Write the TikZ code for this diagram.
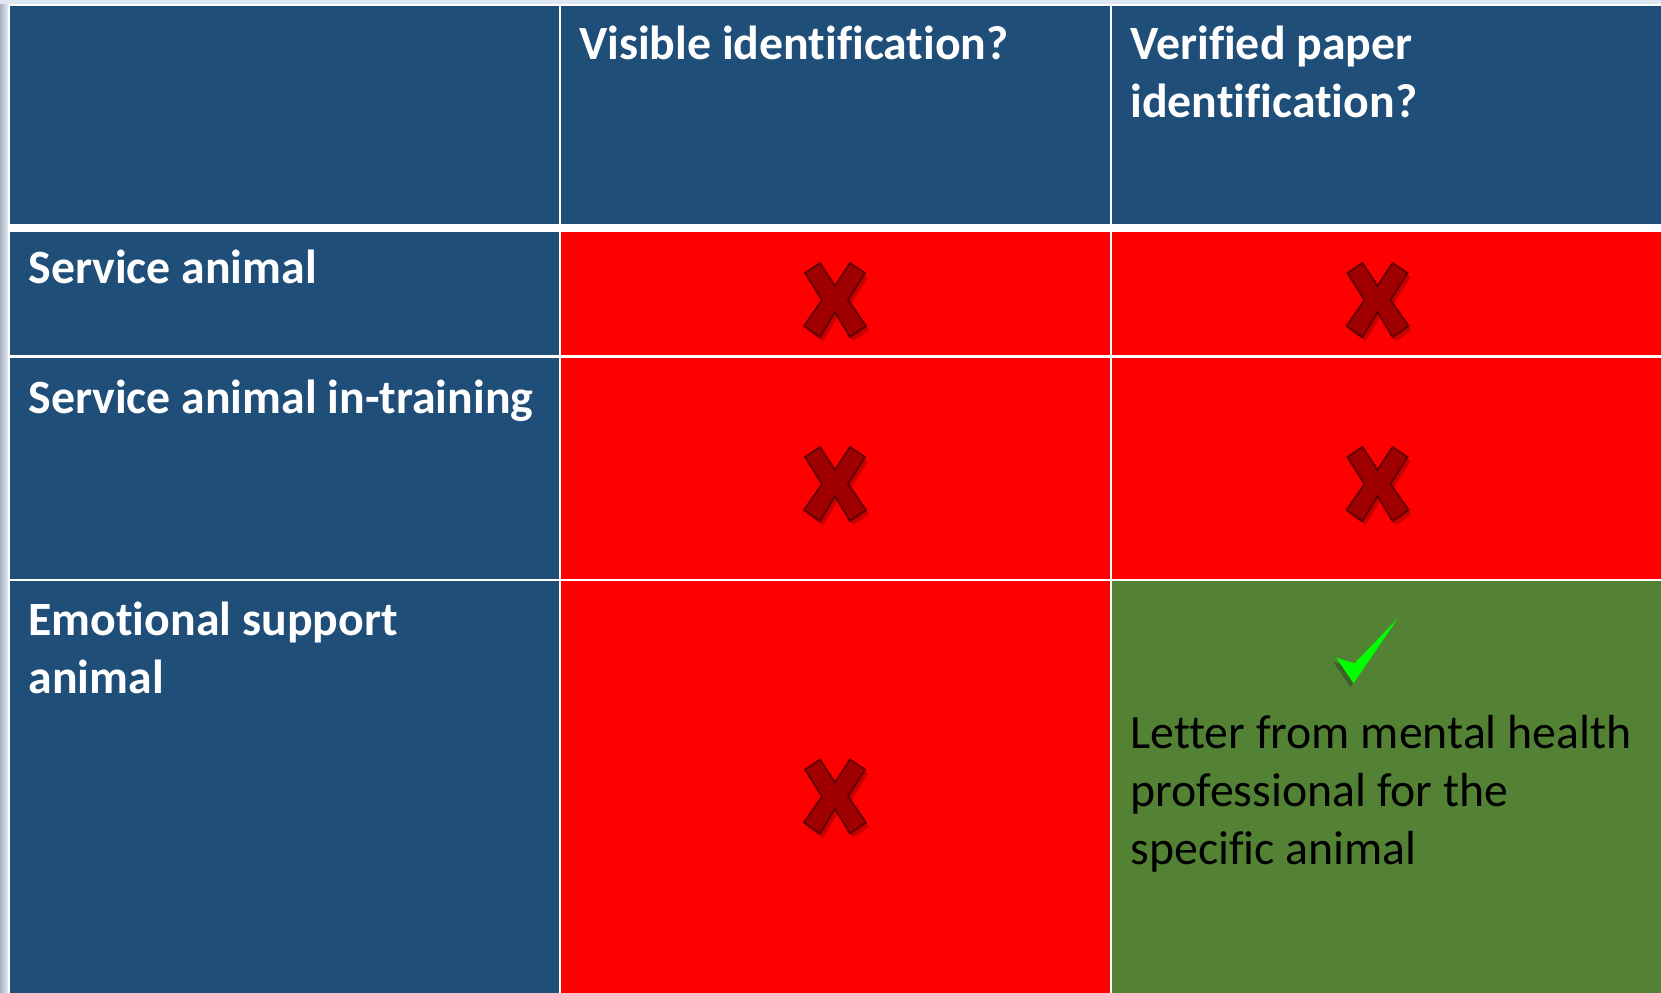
\documentclass[tikz,border=0pt]{standalone}
\usepackage{fontspec}
\setmainfont{Carlito}[Ligatures=NoCommon]
\usepackage{tikz}
\usetikzlibrary{positioning,shadows}
\definecolor{hdblue}{RGB}{31,78,121}
\definecolor{nored}{RGB}{255,0,0}
\definecolor{okgreen}{RGB}{84,130,53}
\definecolor{xfill}{RGB}{160,0,0}
\definecolor{xline}{RGB}{96,0,0}
\definecolor{tick}{RGB}{0,255,0}
\definecolor{rim}{RGB}{168,178,192}
\definecolor{rimlight}{RGB}{222,230,240}

\begin{document}
\begin{tikzpicture}[node distance=0cm,outer sep=0pt,inner sep=0pt]
        \tikzset{field/.style={shape=rectangle,minimum width=5.49cm,anchor=north west}}
        \tikzset{headfield/.style={field,fill=hdblue,minimum height=2.185cm}}
        \tikzset{rowfield/.style={field,fill=hdblue}}
        \tikzset{nofield/.style={field,fill=nored}}
        \tikzset{okfield/.style={field,fill=okgreen}}
        % base west = baseline of the last line
        \tikzset{headtext/.style={text=white,font=\bfseries\fontsize{13.6}{16.5}\selectfont,align=left,anchor=base west}}
        \tikzset{bodytext/.style={text=black,font=\fontsize{13.6}{16.5}\selectfont,align=left,anchor=base west}}
        \tikzset{nomark/.pic={
            \fill[xfill,draw=xline,line width=0.5pt,drop shadow={shadow xshift=0.03cm,shadow yshift=-0.045cm,opacity=0.22,fill=black}]
                (-0.30,0.27) -- (-0.15,0.37) -- (0,0.14) -- (0.15,0.37) -- (0.30,0.27) -- (0.13,0)
                -- (0.31,-0.26) -- (0.15,-0.37) -- (0,-0.12) -- (-0.15,-0.37) -- (-0.31,-0.26) -- (-0.13,0) -- cycle;}}
        \tikzset{yesmark/.pic={
            \fill[tick,drop shadow={shadow xshift=-0.03cm,shadow yshift=-0.04cm,opacity=0.25,fill=black}]
                (-0.173,0.256) -- (0.01,0.2) -- (0.443,0.65) -- (0,0) -- cycle;}}

        \useasboundingbox (0,0) rectangle (16.61,-9.92);
        \shade[left color=rim,right color=rimlight] (0,0) rectangle (0.075,-9.92);
        \fill[rimlight] (0,0) rectangle (16.61,-0.035);

        % header row
        \node [headfield] (corner) at (0.095,-0.055) {};
        \node [headfield,right=0.02cm of corner] (visible) {};
        \node [headfield,right=0.02cm of visible] (paper) {};
        \node [headtext] (visible-txt) at ([shift={(0.185,-0.535)}]visible.north west) {Visible identification?};
        \node [headtext] (paper-txt) at ([shift={(0.19,-1.117)}]paper.north west) {Verified paper\\identification?};

        % service animal
        \node [rowfield,minimum height=1.23cm,below=0.075cm of corner] (service) {};
        \node [nofield,minimum height=1.23cm,right=0.02cm of service] (service-vis) {};
        \node [nofield,minimum height=1.23cm,right=0.02cm of service-vis] (service-pap) {};
        \node [headtext] (service-txt) at ([shift={(0.19,-0.52)}]service.north west) {Service animal};

        % in training
        \node [rowfield,minimum height=2.21cm,below=0.03cm of service] (training) {};
        \node [nofield,minimum height=2.21cm,right=0.02cm of training] (training-vis) {};
        \node [nofield,minimum height=2.21cm,right=0.02cm of training-vis] (training-pap) {};
        \node [headtext] (training-txt) at ([shift={(0.19,-0.555)}]training.north west) {Service animal in-training};

        % emotional support
        \node [rowfield,minimum height=4.2cm,below=0.025cm of training] (esa) {};
        \node [nofield,minimum height=4.2cm,right=0.02cm of esa] (esa-vis) {};
        \node [okfield,minimum height=4.2cm,right=0.02cm of esa-vis] (esa-pap) {};
        \node [headtext] (esa-txt) at ([shift={(0.19,-1.127)}]esa.north west) {Emotional support\\animal};
        \node [bodytext] (letter) at ([shift={(0.19,-2.834)}]esa-pap.north west) {Letter from mental health\\professional for the\\specific animal};

        \pic at ([yshift=-0.07cm]service-vis.center) {nomark};
        \pic at ([shift={(-0.085,-0.07)}]service-pap.center) {nomark};
        \pic at ([yshift=-0.16cm]training-vis.center) {nomark};
        \pic at ([shift={(-0.085,-0.16)}]training-pap.center) {nomark};
        \pic at ([yshift=-0.055cm]esa-vis.center) {nomark};
        \pic at ([shift={(2.42,-1.023)}]esa-pap.north west) {yesmark};
\end{tikzpicture}
\end{document}
